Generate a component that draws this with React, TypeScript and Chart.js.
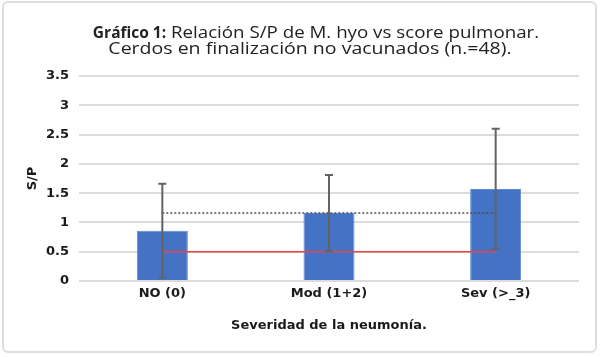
import React, { useEffect, useRef } from "react";
import { Chart, registerables } from "chart.js";

Chart.register(...registerables);

const categories = ["NO (0)", "Mod (1+2)", "Sev (>_3)"];
const meanSP = [0.86, 1.16, 1.57];
const sdSP = [0.8, 0.65, 1.03];
const cutoffLine = [0.5, 0.5, 0.5];
const overallMean = [1.16, 1.16, 1.16];
const yTickLabels = ["0", "0.5", "1", "1.5", "2", "2.5", "3", "3.5"];
const titleBold = "Gráfico 1:";
const titleRest = " Relación S/P de M. hyo vs score pulmonar.";
const titleLine2 = "Cerdos en finalización no vacunados (n.=48).";
const xTitle = "Severidad de la neumonía.";
const yTitle = "S/P";

const TITLE_FONT = "'Open Sans', sans-serif";
const AXIS_FONT = "'DejaVu Sans', sans-serif";

function stretchedText(ctx: any, text: string, x: number, y: number, sx: number) {
  ctx.save();
  ctx.translate(x, y);
  ctx.scale(sx, 1);
  ctx.textAlign = "left";
  ctx.fillText(text, 0, 0);
  ctx.restore();
}

const titlePlugin = {
  id: "customTitle",
  afterDraw(chart: any) {
    const ctx = chart.ctx;
    ctx.save();
    ctx.fillStyle = "#222";
    ctx.textBaseline = "alphabetic";
    const sx1 = 1.17;
    const sx2 = 1.22;
    ctx.font = `bold 15.5px ${TITLE_FONT}`;
    const wb = ctx.measureText(titleBold).width;
    ctx.font = `16px ${TITLE_FONT}`;
    const wr = ctx.measureText(titleRest).width * sx1;
    const x = 316 - (wb + wr) / 2;
    ctx.font = `bold 15.5px ${TITLE_FONT}`;
    ctx.textAlign = "left";
    ctx.fillText(titleBold, x, 38);
    ctx.font = `16px ${TITLE_FONT}`;
    stretchedText(ctx, titleRest, x + wb, 38, sx1);
    const w2 = ctx.measureText(titleLine2).width * sx2;
    stretchedText(ctx, titleLine2, 310 - w2 / 2, 53.5, sx2);
    ctx.restore();
  },
};

const errorBarPlugin = {
  id: "errorBars",
  afterDatasetsDraw(chart: any) {
    const ctx = chart.ctx;
    const xs = chart.scales.x;
    const ys = chart.scales.y;
    ctx.save();
    ctx.strokeStyle = "#636363";
    ctx.lineWidth = 2;
    meanSP.forEach((m, i) => {
      const x = xs.getPixelForValue(i);
      const yT = ys.getPixelForValue(m + sdSP[i]);
      const yB = ys.getPixelForValue(m - sdSP[i]);
      ctx.beginPath();
      ctx.moveTo(x, yT);
      ctx.lineTo(x, yB);
      ctx.moveTo(x - 4, yT);
      ctx.lineTo(x + 4, yT);
      ctx.moveTo(x - 4, yB);
      ctx.lineTo(x + 4, yB);
      ctx.stroke();
    });
    ctx.restore();
  },
};

export default function App() {
  const ref = useRef<HTMLCanvasElement>(null);
  useEffect(() => {
    if (!ref.current) return;
    const chart = new Chart(ref.current, {
      type: "bar",
      data: {
        labels: categories,
        datasets: [
          {
            type: "line",
            data: overallMean,
            borderColor: "#4d4d4d",
            borderWidth: 1.5,
            borderDash: [2, 2],
            pointRadius: 0,
            fill: false,
            order: 0,
          } as any,
          {
            type: "line",
            data: cutoffLine,
            borderColor: "#e8434b",
            borderWidth: 1.5,
            pointRadius: 0,
            fill: false,
            order: 0,
          } as any,
          {
            type: "bar",
            data: meanSP,
            backgroundColor: "#4472C4",
            borderColor: "#5b8ad6",
            borderWidth: 1,
            barPercentage: 0.306,
            categoryPercentage: 1,
            order: 2,
          },
        ],
      },
      options: {
        responsive: false,
        animation: false,
        devicePixelRatio: 1,
        layout: { padding: { top: 76, right: 21, left: 0, bottom: 0 } },
        plugins: {
          legend: { display: false },
          title: { display: false },
          tooltip: { enabled: false },
        },
        scales: {
          x: {
            grid: { display: false, drawTicks: false },
            border: { display: false },
            ticks: {
              padding: 5,
              color: "#1a1a1a",
              font: { family: AXIS_FONT, size: 13, weight: "bold" },
            },
            title: {
              display: true,
              text: xTitle,
              color: "#1a1a1a",
              font: { family: AXIS_FONT, size: 13, weight: "bold" },
              padding: { top: 0, bottom: 24 },
            },
            afterFit: (s: any) => {
              s.height = 76;
            },
          },
          y: {
            min: 0,
            max: 3.5,
            grid: { color: "#dcdcdc", lineWidth: 2, drawTicks: false },
            border: { display: false },
            ticks: {
              stepSize: 0.5,
              padding: 10,
              color: "#1a1a1a",
              font: { family: AXIS_FONT, size: 13, weight: "bold" },
              callback: (_v: any, i: number) => yTickLabels[i],
            },
            title: {
              display: true,
              text: yTitle,
              color: "#1a1a1a",
              font: { family: AXIS_FONT, size: 13, weight: "bold" },
              padding: { top: 25, bottom: 0 },
            },
            afterFit: (s: any) => {
              s.width = 79;
            },
          },
        },
      },
      plugins: [titlePlugin, errorBarPlugin],
    } as any);
    return () => chart.destroy();
  }, []);
  return (
    <div style={{ position: "absolute", left: 0, top: 0, width: 600, height: 357, background: "#fff" }}>
      <canvas ref={ref} width={600} height={357} style={{ display: "block" }} />
      <div
        style={{
          position: "absolute",
          left: 2,
          top: 1,
          width: 595,
          height: 352,
          border: "2px solid #dedede",
          borderRadius: 6,
          boxSizing: "border-box",
          pointerEvents: "none",
        }}
      />
    </div>
  );
}
